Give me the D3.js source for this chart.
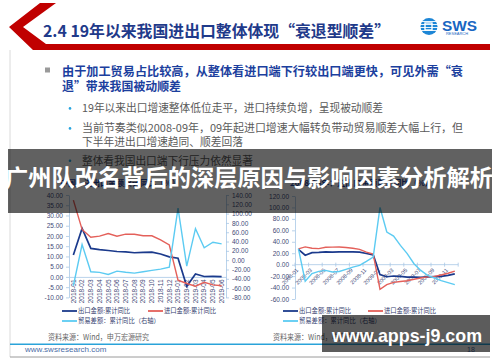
<!DOCTYPE html>
<html>
<head>
<meta charset="utf-8">
<script src="https://cdn.jsdelivr.net/npm/d3@7"></script>
<style>
body { margin: 0; background: #fff; }
svg { display: block; font-family: "Noto Sans CJK SC", "Noto Sans", sans-serif; }
.ax path, .ax line { stroke: #a8c8e6; stroke-width: 0.8; }
.ax text { fill: #3f4a78; font-family: "Liberation Sans", Arial, sans-serif; font-size: 6.5px; }
</style>
</head>
<body>
<div id="chart"></div>
<script>
window.onload = start;

// ---- data ----
var leftMonths = ["2018-01","2018-02","2018-03","2018-04","2018-05","2018-06","2018-07","2018-08","2018-09",
                  "2018-10","2018-11","2018-12","2019-01","2019-02","2019-03","2019-04","2019-05","2019-06"];
var leftExport  = [10.7, 23.7, 13.9, 13.3, 12.9, 12.4, 12.2, 11.8, 12.0, 12.1, 11.2, 9.8, 9.1, -4.6, 1.4, 0.2, 0.3, 0.1];
var leftImport  = [37.5, 23.2, 19.4, 19.9, 21.2, 19.9, 20.9, 20.8, 20.1, 20.1, 18.1, 15.6, -1.6, -3.2, -4.5, -2.6, -3.9, -4.3];
var leftBalance = [-55, 33.6, -24.9, -26.3, -30.6, -23.5, -26.0, -27.8, -24.8, -22.0, -19.2, -15.0, 112, -12.8, 67.8, 26.5, 38.5, 35.0];
var leftTicks  = [-10, -5, 0, 5, 10, 15, 20, 25, 30, 35, 40];
var leftRTicks = [-80, -60, -40, -20, 0, 20, 40, 60, 80, 100, 120, 140];

var rightMonths = ["2008-01","2008-02","2008-03","2008-04","2008-05","2008-06","2008-07","2008-08","2008-09","2008-10","2008-11","2008-12",
                   "2009-01","2009-02","2009-03","2009-04","2009-05","2009-06","2009-07","2009-08","2009-09","2009-10","2009-11","2009-12"];
var rightExport  = [26.7, 16.5, 21.0, 21.5, 22.5, 21.9, 22.5, 22.4, 22.2, 21.8, 19.5, 17.2, -17.5, -21.1, -19.8, -20.5, -21.8, -21.8, -22.0, -21.3, -21.0, -20.5, -18.8, -16.0];
var rightImport  = [27.6, 31.0, 28.6, 28.0, 30.4, 30.6, 31.0, 30.0, 28.7, 26.8, 22.0, 18.5, -43.1, -35.0, -30.9, -29.4, -28.1, -25.4, -23.4, -21.3, -20.4, -18.1, -15.0, -11.2];
var rightBalance = [27.9, -29.0, -15.7, -11.7, -10.0, -12.8, -12.0, -8.2, -4.2, -1.2, 5.8, 13.3, 100, 57, 50, 33.7, 19.2, 1.7, -10.0, -18.7, -23.3, -28.0, -31.4, -35.0];
var rightTicks = [-60, -40, -20, 0, 20, 40, 60, 80, 100, 120];
var rightLabels = ["2008-01","2008-03","2008-05","2008-07","2008-09","2008-11","2009-01","2009-03","2009-05","2009-07","2009-09","2009-11"];

var seriesNames = ["出口金额:累计同比", "进口金额:累计同比", "贸易差额：累计同比（右轴）"];
var seriesColors = ["#1b3a8c", "#e4605a", "#5ccbf2"];

var slideTitle = "2.4 19年以来我国进出口整体体现“衰退型顺差”";
var mainBullet = ["由于加工贸易占比较高，从整体看进口端下行较出口端更快，可见外需“衰", "退”带来我国被动顺差"];
var subBullets = ["19年以来出口增速整体低位走平，进口持续负增，呈现被动顺差",
                  "当前节奏类似2008-09年，09年起进口增速大幅转负带动贸易顺差大幅上行，但",
                  "下半年进出口增速趋同、顺差回落",
                  "整体看我国出口端下行压力依然显著"];
var chartTitles = ["中国：进出口金额累计同比（%）", "2008-09年：进出口金额累计同比（%）"];
var sourceText = "资料来源：Wind，申万宏源研究";
var bannerText = "广州队改名背后的深层原因与影响因素分析解析";
var watermark = "www.apps-j9.com";

var svg;

function start() {
    svg = d3.select("#chart").append("svg")
        .attr("width", 500)
        .attr("height", 362);

    svg.append("rect").attr("width", 500).attr("height", 362).attr("fill", "#fff");

    drawFrame();
    drawBullets();
    drawLeftChart();
    drawRightChart();
    drawFooter();
    drawOverlays();
}

function drawFrame() {
    // left border of slide
    svg.append("line").attr("x1", 10).attr("x2", 10).attr("y1", 50).attr("y2", 357)
        .attr("stroke", "#dadada").attr("stroke-width", 1);

    // red chevron + band under the title
    svg.append("polygon")
        .attr("points", "40,3 9,27 33,50 490,50 490,44 46,44 23,27 56,3")
        .attr("fill", "#c00000");

    svg.append("text")
        .attr("x", 43).attr("y", 37)
        .attr("font-size", 16)
        .attr("font-weight", "bold")
        .attr("fill", "#1f3a8a")
        .attr("textLength", 347)
        .attr("lengthAdjust", "spacingAndGlyphs")
        .text(slideTitle);

    // SWS logo
    var logo = svg.append("g");
    logo.append("circle").attr("cx", 429).attr("cy", 26.5).attr("r", 8.5).attr("fill", "#1d86d6");
    [21.5, 24.5, 27.5, 30.5].forEach(function (y) {
        logo.append("line").attr("x1", 420).attr("x2", 438).attr("y1", y).attr("y2", y)
            .attr("stroke", "#fff").attr("stroke-width", 0.9);
    });
    logo.append("rect").attr("x", 425).attr("y", 23).attr("width", 7).attr("height", 7)
        .attr("fill", "none").attr("stroke", "#fff").attr("stroke-width", 1.4);
    logo.append("text").attr("x", 442).attr("y", 30.5)
        .attr("font-family", "Liberation Sans, Arial, sans-serif")
        .attr("font-weight", "bold").attr("font-size", 14).attr("fill", "#1866c2")
        .attr("textLength", 35).attr("lengthAdjust", "spacingAndGlyphs")
        .text("SWS");
    logo.append("text").attr("x", 446).attr("y", 35)
        .attr("font-family", "Liberation Sans, Arial, sans-serif")
        .attr("font-size", 3.5).attr("fill", "#1866c2")
        .attr("textLength", 22).attr("lengthAdjust", "spacingAndGlyphs")
        .text("RESEARCH");
}

function drawBullets() {
    svg.append("rect").attr("x", 45).attr("y", 67.5).attr("width", 5).attr("height", 5).attr("fill", "#9a9a9a");

    var mainLens = [401, 119];
    mainBullet.forEach(function (t, i) {
        svg.append("text")
            .attr("x", 62).attr("y", 75.5 + i * 15.5)
            .attr("font-size", 12).attr("font-weight", "bold")
            .attr("fill", "#1c3f9e")
            .attr("textLength", mainLens[i]).attr("lengthAdjust", "spacingAndGlyphs")
            .text(t);
    });

    var subY = [112.2, 132.2, 146.2, 164.5];
    var subLens = [301, 381, 161, 171];
    var subDot = [true, true, false, true];
    subBullets.forEach(function (t, i) {
        if (subDot[i]) {
            svg.append("circle").attr("cx", 70).attr("cy", subY[i] - 3.8).attr("r", 1.3).attr("fill", "#2aa5df");
        }
        svg.append("text")
            .attr("x", 82).attr("y", subY[i])
            .attr("font-size", 11)
            .attr("fill", "#5a5a5a")
            .attr("textLength", subLens[i]).attr("lengthAdjust", "spacingAndGlyphs")
            .text(t);
    });
}

function drawLegend(x0, x1, y0) {
    // two rows: export / import on first row, balance on second
    var pos = [[x0, y0], [x1, y0], [x0, y0 + 10]];
    seriesNames.forEach(function (name, i) {
        svg.append("line")
            .attr("x1", pos[i][0]).attr("x2", pos[i][0] + 15)
            .attr("y1", pos[i][1]).attr("y2", pos[i][1])
            .attr("stroke", seriesColors[i]).attr("stroke-width", 1.8);
        svg.append("text")
            .attr("x", pos[i][0] + 16).attr("y", pos[i][1] + 2.3)
            .attr("font-size", 6.3).attr("fill", "#34406e")
            .text(name);
    });
}

function drawLeftChart() {
    var x = d3.scaleBand().domain(leftMonths).range([69, 226]);
    var yL = d3.scaleLinear().domain([-10, 40]).range([297.4, 195]);
    var yR = d3.scaleLinear().domain([-80, 140]).range([297.4, 195]);

    // chart title, mostly hidden behind the banner
    svg.append("text").attr("x", 60).attr("y", 186)
        .attr("font-size", 8).attr("font-weight", "bold").attr("fill", "#1c3f9e")
        .text(chartTitles[0]);

    svg.append("g").attr("class", "ax")
        .attr("transform", "translate(69,0)")
        .call(d3.axisLeft(yL).tickValues(leftTicks).tickSize(3).tickSizeOuter(0)
            .tickFormat(function (d) { return d.toFixed(2); }));

    svg.append("g").attr("class", "ax")
        .attr("transform", "translate(226,0)")
        .call(d3.axisRight(yR).tickValues(leftRTicks).tickSize(3).tickSizeOuter(0)
            .tickFormat(function (d) { return d.toFixed(2); }));

    var xAxis = svg.append("g").attr("class", "ax")
        .attr("transform", "translate(0," + yL(0) + ")")
        .call(d3.axisBottom(x).tickSize(0).tickSizeOuter(0));
    xAxis.selectAll("text")
        .attr("transform", "rotate(-90)")
        .attr("x", -2.5).attr("y", 0).attr("dy", "0.35em")
        .style("text-anchor", "end");

    var line = function (scale) {
        return d3.line()
            .x(function (d, i) { return x(leftMonths[i]) + x.bandwidth() / 2; })
            .y(function (d) { return scale(d); });
    };
    var sets = [[leftExport, yL], [leftImport, yL], [leftBalance, yR]];
    sets.forEach(function (s, i) {
        svg.append("path")
            .datum(s[0])
            .attr("fill", "none")
            .attr("stroke", seriesColors[i])
            .attr("stroke-width", i === 0 ? 1.7 : 1.4)
            .attr("d", line(s[1]));
    });

    drawLegend(62, 148, 311);
    svg.append("text").attr("x", 48).attr("y", 339.5)
        .attr("font-size", 8).attr("fill", "#666")
        .attr("textLength", 101).attr("lengthAdjust", "spacingAndGlyphs")
        .text(sourceText);
}

function drawRightChart() {
    var x = d3.scaleBand().domain(rightMonths).range([295, 458.2]);
    var y = d3.scaleLinear().domain([-60, 120]).range([299, 196]);

    svg.append("text").attr("x", 290).attr("y", 186)
        .attr("font-size", 8).attr("font-weight", "bold").attr("fill", "#1c3f9e")
        .text(chartTitles[1]);

    svg.append("g").attr("class", "ax")
        .attr("transform", "translate(295,0)")
        .call(d3.axisLeft(y).tickValues(rightTicks).tickSize(3).tickSizeOuter(0)
            .tickFormat(function (d) { return d.toFixed(2); }));

    var y0 = y(0);
    var xg = svg.append("g").attr("class", "ax");
    xg.append("line").attr("x1", 295).attr("x2", 458.2).attr("y1", y0).attr("y2", y0);
    rightMonths.forEach(function (m, i) {
        if (i % 2 === 0) {
            var bx = x(m);
            xg.append("line").attr("x1", bx).attr("x2", bx).attr("y1", y0 - 2).attr("y2", y0 + 2);
        }
    });
    xg.append("line").attr("x1", 458.2).attr("x2", 458.2).attr("y1", y0 - 2).attr("y2", y0 + 2);
    xg.selectAll(".lbl")
        .data(rightLabels)
        .enter()
        .append("text")
        .attr("class", "lbl")
        .attr("transform", function (d) {
            return "translate(" + (x(d) + x.bandwidth() / 2 - 1) + "," + (y0 + 4.5) + ") rotate(-45)";
        })
        .attr("dy", "0.35em")
        .style("text-anchor", "end")
        .style("font-size", "5.6px")
        .text(function (d) { return d; });

    var line = d3.line()
        .x(function (d, i) { return x(rightMonths[i]) + x.bandwidth() / 2; })
        .y(function (d) { return y(d); });
    [rightExport, rightImport, rightBalance].forEach(function (s, i) {
        svg.append("path")
            .datum(s)
            .attr("fill", "none")
            .attr("stroke", seriesColors[i])
            .attr("stroke-width", i === 0 ? 1.7 : 1.4)
            .attr("d", line);
    });

    drawLegend(283, 368, 311);
    svg.append("text").attr("x", 273).attr("y", 339.5)
        .attr("font-size", 8).attr("fill", "#666")
        .attr("textLength", 101).attr("lengthAdjust", "spacingAndGlyphs")
        .text(sourceText);
}

function drawFooter() {
    svg.append("line").attr("x1", 10).attr("x2", 490).attr("y1", 344.3).attr("y2", 344.3)
        .attr("stroke", "#2aa3d9").attr("stroke-width", 1.5);
    svg.append("text").attr("x", 25).attr("y", 351.5)
        .attr("font-family", "Liberation Sans, Arial, sans-serif")
        .attr("font-size", 8).attr("fill", "#4b6da6")
        .text("www.swsresearch.com");
    svg.append("text").attr("x", 467).attr("y", 351.5)
        .attr("font-family", "Liberation Sans, Arial, sans-serif")
        .attr("font-size", 7).attr("fill", "#4b6da6")
        .text("18");
    svg.append("line").attr("x1", 10).attr("x2", 490).attr("y1", 357).attr("y2", 357)
        .attr("stroke", "#9a9a9a").attr("stroke-width", 1);
}

function drawOverlays() {
    svg.append("rect").attr("x", 8).attr("y", 149).attr("width", 484).attr("height", 64)
        .attr("fill", "rgba(0,0,0,0.62)");
    svg.append("text")
        .attr("x", 5).attr("y", 186)
        .attr("font-size", 23).attr("font-weight", "bold")
        .attr("fill", "#fff")
        .attr("textLength", 488).attr("lengthAdjust", "spacingAndGlyphs")
        .text(bannerText);

    svg.append("rect").attr("x", 322).attr("y", 315).attr("width", 168).attr("height", 37)
        .attr("fill", "rgba(0,0,0,0.64)");
    svg.append("text")
        .attr("x", 332).attr("y", 342)
        .attr("font-family", "Liberation Sans, Arial, sans-serif")
        .attr("font-size", 19).attr("font-weight", "bold")
        .attr("fill", "#fff")
        .attr("textLength", 150).attr("lengthAdjust", "spacingAndGlyphs")
        .text(watermark);
}
</script>
</body>
</html>
